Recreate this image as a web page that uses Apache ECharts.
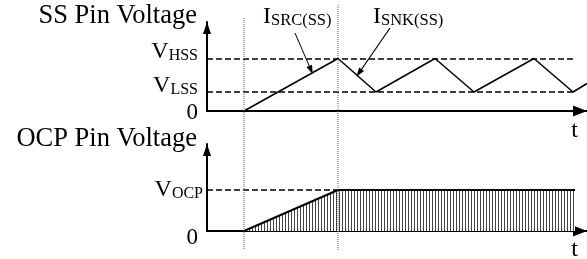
<!DOCTYPE html>
<html>
<head>
<meta charset="utf-8">
<script src="https://cdn.jsdelivr.net/npm/echarts@6/dist/echarts.min.js"></script>
<style>
html,body{margin:0;padding:0;background:#fff;}
#c{width:587px;height:259px;}
</style>
</head>
<body>
<div id="c"></div>
<script>
// ---- data (arbitrary time / voltage units) ----
const ssTime = [37, 131, 169, 228, 267, 327, 366, 380];
const ssVolt = [0, 52.5, 19, 52.5, 19, 52.5, 19, 27.5];
const ocpTime = [37, 131, 368, 368];
const ocpVolt = [0, 41, 41, 0];
const vHSS = 52.5;
const vLSS = 19;
const vOCP = 41;
const levelEnd = 368;          // where the dashed reference levels stop
const timeMax = 380;
const ssMax = 89;
const ocpMax = 87;
const markerTimes = [37, 131]; // soft-start begin / end (dotted guides)
const markerTop = [241, 254];
const markerBottom = 9;
const srcArrow = [[88, 78], [104, 41]];
const snkArrow = [[183, 83], [152, 38]];
const zeroLabel = '0';

const FONT = "'Liberation Serif', 'Times New Roman', serif";
const pts = (xs, ys) => xs.map((x, i) => [x, ys[i]]);

function richLabel(main, sub) {
  return {
    formatter: '{m|' + main + '}{s|' + sub + '}',
    rich: {
      m: { fontSize: 24, fontFamily: FONT, color: '#000', verticalAlign: 'bottom' },
      s: { fontSize: 16, fontFamily: FONT, color: '#000', verticalAlign: 'bottom' }
    }
  };
}

const dashed = { color: '#000', width: 1.5, type: [6, 3] };

function levelLine(y, main, sub, dist, pad) {
  const lab = richLabel(main, sub);
  return [
    { coord: [0, y], label: Object.assign({ show: true, position: 'start', distance: dist, padding: pad }, lab) },
    { coord: [levelEnd, y] }
  ];
}

function xAxisCfg(gi) {
  return {
    gridIndex: gi, type: 'value', min: 0, max: timeMax,
    axisLine: { show: true, onZero: false, lineStyle: { color: '#000', width: 2 },
      symbol: ['none', 'triangle'], symbolSize: [11, 14], symbolOffset: [0, -7] },
    axisTick: { show: false }, axisLabel: { show: false }, splitLine: { show: false }
  };
}
function yAxisCfg(gi, max, shift) {
  return {
    gridIndex: gi, type: 'value', min: 0, max: max, interval: max,
    axisLine: { show: true, onZero: false, lineStyle: { color: '#000', width: 2 },
      symbol: ['none', 'triangle'], symbolSize: [8, 12], symbolOffset: [0, -6] },
    axisTick: { show: false }, splitLine: { show: false },
    axisLabel: { show: true, margin: 9, color: '#000',
      formatter: v => (v === 0 ? '{z|' + zeroLabel + '}' : ''),
      rich: { z: { fontSize: 23, fontFamily: FONT, color: '#000', padding: [shift, 0, 0, 0] } } }
  };
}

const chart = echarts.init(document.getElementById('c'), null, { renderer: 'canvas' });
chart.setOption({
  animation: false,
  backgroundColor: '#fff',
  grid: [
    { left: 207, right: 0, top: 22, height: 89 },
    { left: 207, right: 0, top: 144, height: 87 },
    { left: 207, right: 0, top: 0, bottom: 0 }
  ],
  xAxis: [xAxisCfg(0), xAxisCfg(1),
    { gridIndex: 2, type: 'value', min: 0, max: timeMax, show: false }],
  yAxis: [yAxisCfg(0, ssMax, 4), yAxisCfg(1, ocpMax, 13),
    { gridIndex: 2, type: 'value', min: 0, max: 259, show: false }],
  graphic: [
    { type: 'text', x: 197, y: 16, style: { text: 'SS Pin Voltage', font: '26.5px ' + FONT, fill: '#000', align: 'right', verticalAlign: 'middle' } },
    { type: 'text', x: 197, y: 139, style: { text: 'OCP Pin Voltage', font: '26.5px ' + FONT, fill: '#000', align: 'right', verticalAlign: 'middle' } },
    { type: 'text', x: 574.5, y: 131, style: { text: 't', font: '24px ' + FONT, fill: '#000', align: 'center', verticalAlign: 'middle' } },
    { type: 'text', x: 574.5, y: 250, style: { text: 't', font: '24px ' + FONT, fill: '#000', align: 'center', verticalAlign: 'middle' } },
    { type: 'text', x: 263, y: 29, style: { text: '{m|I}{s|SRC(SS)}', align: 'left', verticalAlign: 'bottom',
        rich: { m: { fontSize: 24, fontFamily: FONT, fill: '#000', verticalAlign: 'bottom' }, s: { fontSize: 16.5, fontFamily: FONT, fill: '#000', verticalAlign: 'bottom' } } } },
    { type: 'text', x: 373, y: 29, style: { text: '{m|I}{s|SNK(SS)}', align: 'left', verticalAlign: 'bottom',
        rich: { m: { fontSize: 24, fontFamily: FONT, fill: '#000', verticalAlign: 'bottom' }, s: { fontSize: 16.5, fontFamily: FONT, fill: '#000', verticalAlign: 'bottom' } } } }
  ],
  series: [
    {
      type: 'line', xAxisIndex: 0, yAxisIndex: 0, data: pts(ssTime, ssVolt),
      showSymbol: false, silent: true, clip: false,
      lineStyle: { color: '#000', width: 1.5 },
      markLine: {
        silent: true, animation: false, symbol: ['none', 'none'],
        lineStyle: dashed,
        data: [
          levelLine(vHSS, 'V', 'HSS', 9, [0, 0, 13, 0]),
          levelLine(vLSS, 'V', 'LSS', 9, [0, 0, 13, 0]),
          [{ coord: srcArrow[0], lineStyle: { type: 'solid', width: 1 }, label: { show: false } },
           { coord: srcArrow[1], symbol: 'triangle', symbolSize: [6, 9] }],
          [{ coord: snkArrow[0], lineStyle: { type: 'solid', width: 1.2 }, label: { show: false } },
           { coord: snkArrow[1], symbol: 'triangle', symbolSize: [6, 9] }]
        ]
      }
    },
    {
      type: 'line', xAxisIndex: 1, yAxisIndex: 1, data: pts(ocpTime, ocpVolt),
      showSymbol: false, silent: true,
      lineStyle: { width: 0, opacity: 0, color: '#000' },
      itemStyle: { color: '#000', decal: { symbol: 'rect', symbolSize: 1, dashArrayX: [1, 2], dashArrayY: [4, 0], color: '#444', backgroundColor: '#fff' } },
      areaStyle: { color: '#fff', opacity: 1 },
      markLine: {
        silent: true, animation: false, symbol: ['none', 'none'], lineStyle: dashed,
        data: [[
          { coord: [0, vOCP], label: Object.assign({ show: true, position: 'start', distance: 4, padding: [0, 0, 0, 0] }, richLabel('V', 'OCP')) },
          { coord: [markerTimes[1], vOCP] }
        ]]
      }
    },
    {
      type: 'line', xAxisIndex: 1, yAxisIndex: 1, data: pts(ocpTime.slice(0, 3), ocpVolt.slice(0, 3)),
      showSymbol: false, silent: true, z: 3,
      lineStyle: { color: '#000', width: 2 }
    },
    {
      type: 'line', xAxisIndex: 2, yAxisIndex: 2, z: 5,
      data: [[markerTimes[0], markerTop[0]], [markerTimes[0], markerBottom]],
      showSymbol: false, silent: true, lineStyle: { color: '#666', width: 1, type: [1, 1] }
    },
    {
      type: 'line', xAxisIndex: 2, yAxisIndex: 2, z: 5,
      data: [[markerTimes[1], markerTop[1]], [markerTimes[1], markerBottom]],
      showSymbol: false, silent: true, lineStyle: { color: '#666', width: 1, type: [1, 1] }
    }
  ]
});
</script>
</body>
</html>
